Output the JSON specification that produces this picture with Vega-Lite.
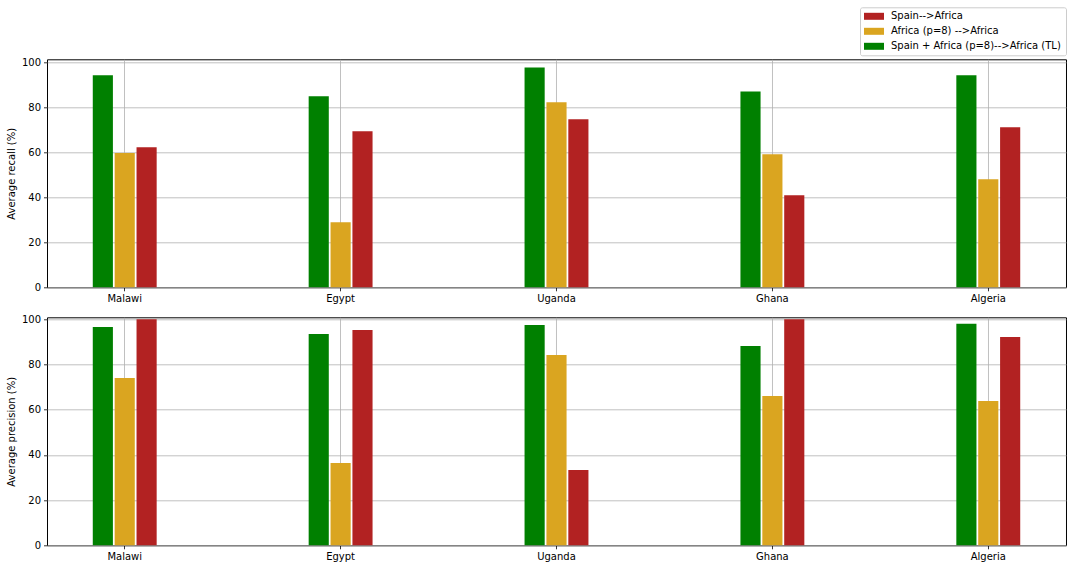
{
  "$schema": "https://vega.github.io/schema/vega-lite/v6.json",
  "background": "white",
  "padding": {"left": 5, "top": 6.3, "right": 5, "bottom": 5},
  "data": {"name": "scores"},
  "datasets": {
    "scores": [
      {"country": "Malawi", "method": "Spain + Africa (p=8)-->Africa (TL)", "metric": "recall", "value": 94.4},
      {"country": "Malawi", "method": "Africa (p=8) -->Africa", "metric": "recall", "value": 59.8},
      {"country": "Malawi", "method": "Spain-->Africa", "metric": "recall", "value": 62.3},
      {"country": "Egypt", "method": "Spain + Africa (p=8)-->Africa (TL)", "metric": "recall", "value": 85.0},
      {"country": "Egypt", "method": "Africa (p=8) -->Africa", "metric": "recall", "value": 29.0},
      {"country": "Egypt", "method": "Spain-->Africa", "metric": "recall", "value": 69.5},
      {"country": "Uganda", "method": "Spain + Africa (p=8)-->Africa (TL)", "metric": "recall", "value": 97.9},
      {"country": "Uganda", "method": "Africa (p=8) -->Africa", "metric": "recall", "value": 82.4},
      {"country": "Uganda", "method": "Spain-->Africa", "metric": "recall", "value": 74.8},
      {"country": "Ghana", "method": "Spain + Africa (p=8)-->Africa (TL)", "metric": "recall", "value": 87.2},
      {"country": "Ghana", "method": "Africa (p=8) -->Africa", "metric": "recall", "value": 59.2},
      {"country": "Ghana", "method": "Spain-->Africa", "metric": "recall", "value": 41.0},
      {"country": "Algeria", "method": "Spain + Africa (p=8)-->Africa (TL)", "metric": "recall", "value": 94.4},
      {"country": "Algeria", "method": "Africa (p=8) -->Africa", "metric": "recall", "value": 48.1},
      {"country": "Algeria", "method": "Spain-->Africa", "metric": "recall", "value": 71.2},
      {"country": "Malawi", "method": "Spain + Africa (p=8)-->Africa (TL)", "metric": "precision", "value": 96.6},
      {"country": "Malawi", "method": "Africa (p=8) -->Africa", "metric": "precision", "value": 74.0},
      {"country": "Malawi", "method": "Spain-->Africa", "metric": "precision", "value": 100.0},
      {"country": "Egypt", "method": "Spain + Africa (p=8)-->Africa (TL)", "metric": "precision", "value": 93.5},
      {"country": "Egypt", "method": "Africa (p=8) -->Africa", "metric": "precision", "value": 36.4},
      {"country": "Egypt", "method": "Spain-->Africa", "metric": "precision", "value": 95.3},
      {"country": "Uganda", "method": "Spain + Africa (p=8)-->Africa (TL)", "metric": "precision", "value": 97.5},
      {"country": "Uganda", "method": "Africa (p=8) -->Africa", "metric": "precision", "value": 84.2},
      {"country": "Uganda", "method": "Spain-->Africa", "metric": "precision", "value": 33.3},
      {"country": "Ghana", "method": "Spain + Africa (p=8)-->Africa (TL)", "metric": "precision", "value": 88.2},
      {"country": "Ghana", "method": "Africa (p=8) -->Africa", "metric": "precision", "value": 66.1},
      {"country": "Ghana", "method": "Spain-->Africa", "metric": "precision", "value": 100.0},
      {"country": "Algeria", "method": "Spain + Africa (p=8)-->Africa (TL)", "metric": "precision", "value": 98.0},
      {"country": "Algeria", "method": "Africa (p=8) -->Africa", "metric": "precision", "value": 63.9},
      {"country": "Algeria", "method": "Spain-->Africa", "metric": "precision", "value": 92.2}
    ]
  },
  "config": {
    "font": "DejaVu Sans",
    "view": {"stroke": "#000000", "strokeWidth": 1},
    "axis": {
      "labelFont": "DejaVu Sans",
      "labelFontSize": 10,
      "labelColor": "#000000",
      "titleFont": "DejaVu Sans",
      "titleFontSize": 10,
      "titleFontWeight": "normal",
      "titleColor": "#000000",
      "tickColor": "#000000",
      "tickSize": 3.5,
      "tickWidth": 0.8,
      "labelPadding": 3,
      "domain": false,
      "grid": true,
      "gridColor": "#b0b0b0",
      "gridWidth": 0.8
    },
    "legend": {
      "labelFont": "DejaVu Sans",
      "labelFontSize": 10,
      "labelColor": "#000000"
    }
  },
  "spacing": 9,
  "resolve": {"legend": {"color": "independent"}},
  "vconcat": [
    {
      "width": 1019,
      "height": 228,
      "transform": [{"filter": "datum.metric === 'recall'"}],
      "mark": {"type": "bar"},
      "encoding": {
        "x": {
          "field": "country", "type": "nominal",
          "sort": ["Malawi", "Egypt", "Uganda", "Ghana", "Algeria"],
          "scale": {"paddingInner": 0.7, "paddingOuter": 0.21},
          "axis": {"title": null, "labelAngle": 0, "bandPosition": 0.5}
        },
        "xOffset": {
          "field": "method", "type": "nominal",
          "sort": ["Spain + Africa (p=8)-->Africa (TL)", "Africa (p=8) -->Africa", "Spain-->Africa"],
          "scale": {"paddingInner": 0.08, "paddingOuter": 0.02}
        },
        "y": {
          "field": "value", "type": "quantitative",
          "scale": {"domain": [0, 101.5], "nice": false, "zero": true},
          "axis": {"title": "Average recall (%)", "values": [0, 20, 40, 60, 80, 100], "titlePadding": 5}
        },
        "color": {
          "field": "method", "type": "nominal",
          "sort": ["Spain-->Africa", "Africa (p=8) -->Africa", "Spain + Africa (p=8)-->Africa (TL)"],
          "scale": {
            "domain": ["Spain-->Africa", "Africa (p=8) -->Africa", "Spain + Africa (p=8)-->Africa (TL)"],
            "range": ["#b22222", "#daa520", "#008000"]
          },
          "legend": {
            "title": null,
            "orient": "none",
            "legendX": 813,
            "legendY": -52,
            "symbolType": "M-1,-0.7L3,-0.7L3,0.7L-1,0.7Z",
            "symbolSize": 100,
            "symbolStrokeWidth": 0,
            "labelOffset": 17,
            "labelLimit": 400,
            "rowPadding": 5,
            "padding": 4,
            "strokeColor": "#cccccc",
            "fillColor": "white",
            "cornerRadius": 2
          }
        }
      }
    },
    {
      "width": 1019,
      "height": 228,
      "transform": [{"filter": "datum.metric === 'precision'"}],
      "mark": {"type": "bar"},
      "encoding": {
        "x": {
          "field": "country", "type": "nominal",
          "sort": ["Malawi", "Egypt", "Uganda", "Ghana", "Algeria"],
          "scale": {"paddingInner": 0.7, "paddingOuter": 0.21},
          "axis": {"title": null, "labelAngle": 0, "bandPosition": 0.5}
        },
        "xOffset": {
          "field": "method", "type": "nominal",
          "sort": ["Spain + Africa (p=8)-->Africa (TL)", "Africa (p=8) -->Africa", "Spain-->Africa"],
          "scale": {"paddingInner": 0.08, "paddingOuter": 0.02}
        },
        "y": {
          "field": "value", "type": "quantitative",
          "scale": {"domain": [0, 100.9], "nice": false, "zero": true},
          "axis": {"title": "Average precision (%)", "values": [0, 20, 40, 60, 80, 100], "titlePadding": 5}
        },
        "color": {
          "field": "method", "type": "nominal",
          "scale": {
            "domain": ["Spain-->Africa", "Africa (p=8) -->Africa", "Spain + Africa (p=8)-->Africa (TL)"],
            "range": ["#b22222", "#daa520", "#008000"]
          },
          "legend": null
        }
      }
    }
  ]
}
